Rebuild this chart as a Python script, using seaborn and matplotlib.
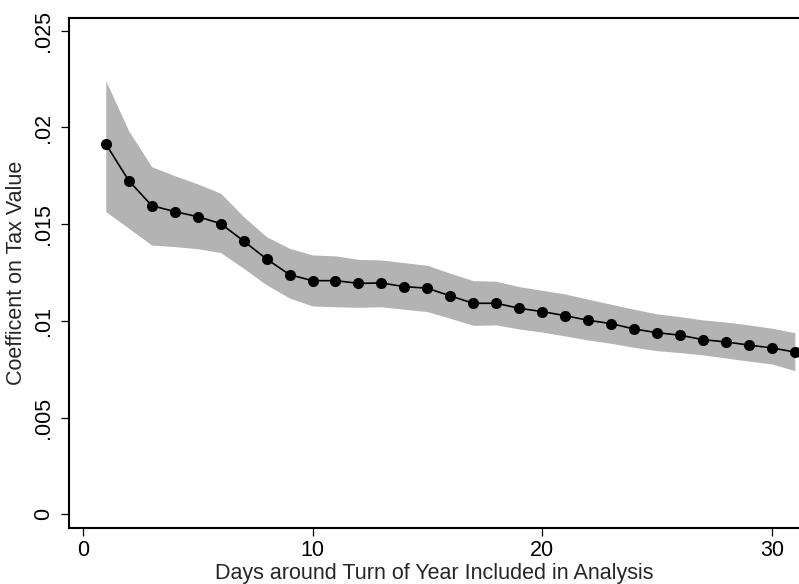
import pandas as pd
import matplotlib
matplotlib.use("Agg")
import matplotlib.pyplot as plt
import seaborn as sns

# data
days = list(range(1, 32))
coef = [0.01915, 0.01725, 0.01596, 0.01565, 0.01539, 0.01503, 0.01413, 0.01320,
        0.01239, 0.01208, 0.01208, 0.01194, 0.01196, 0.01177, 0.01169, 0.01129,
        0.01091, 0.01091, 0.01065, 0.01048, 0.01027, 0.01003, 0.00986, 0.00958,
        0.00939, 0.00926, 0.00903, 0.00891, 0.00875, 0.00860, 0.00839]
upper = [0.02242, 0.01982, 0.01797, 0.01751, 0.01708, 0.01660, 0.01539, 0.01435,
         0.01375, 0.01341, 0.01336, 0.01318, 0.01315, 0.01301, 0.01287, 0.01246,
         0.01208, 0.01205, 0.01177, 0.01158, 0.01139, 0.01112, 0.01086, 0.01060,
         0.01036, 0.01022, 0.01005, 0.00994, 0.00979, 0.00962, 0.00939]
lower = [0.01565, 0.01479, 0.01392, 0.01384, 0.01373, 0.01353, 0.01272, 0.01186,
         0.01118, 0.01077, 0.01073, 0.01070, 0.01073, 0.01060, 0.01048, 0.01013,
         0.00977, 0.00979, 0.00958, 0.00942, 0.00922, 0.00901, 0.00884, 0.00863,
         0.00846, 0.00836, 0.00824, 0.00808, 0.00792, 0.00777, 0.00743]

x_ticks = [0, 10, 20, 30]
y_ticks = [0, 0.005, 0.01, 0.015, 0.02, 0.025]
y_tick_labels = ["0", ".005", ".01", ".015", ".02", ".025"]

df = pd.DataFrame({"days": days, "coef": coef, "upper": upper, "lower": lower})

sns.set_style("ticks")
plt.rcParams["font.family"] = ["Liberation Sans", "DejaVu Sans"]

fig = plt.figure(figsize=(7.99, 5.84), dpi=100)
ax = fig.add_axes([0.0864, 0.0964, 0.9136, 0.8728])

# confidence band
ax.fill_between(df["days"], df["lower"], df["upper"],
                color="#b3b3b3", linewidth=0, zorder=1)

# point estimates
sns.lineplot(data=df, x="days", y="coef", ax=ax,
             color="black", linewidth=1.2,
             marker="o", markersize=8, markeredgewidth=0,
             markerfacecolor="black", zorder=3)

ax.set_xlim(-0.6, 31.18)
ax.set_ylim(-0.000693, 0.02566)

ax.set_xticks(x_ticks)
ax.set_xticklabels([str(t) for t in x_ticks])
ax.set_yticks(y_ticks)
ax.set_yticklabels(y_tick_labels, rotation=90, va="center")

ax.tick_params(axis="both", length=6, width=0.9, color="black",
               labelsize=15.5, labelcolor="black")
ax.tick_params(axis="x", pad=3)
ax.tick_params(axis="y", pad=5)

for side in ["left", "bottom", "top"]:
    ax.spines[side].set_linewidth(1.5)
    ax.spines[side].set_color("black")
ax.spines["right"].set_visible(False)

ax.set_xlabel("Days around Turn of Year Included in Analysis", fontsize=15.5, labelpad=1)
ax.set_ylabel("Coefficent on Tax Value", fontsize=15.5)
ax.yaxis.set_label_coords(-0.057, 0.5)

fig.savefig("out.png", dpi=100)
plt.close(fig)
